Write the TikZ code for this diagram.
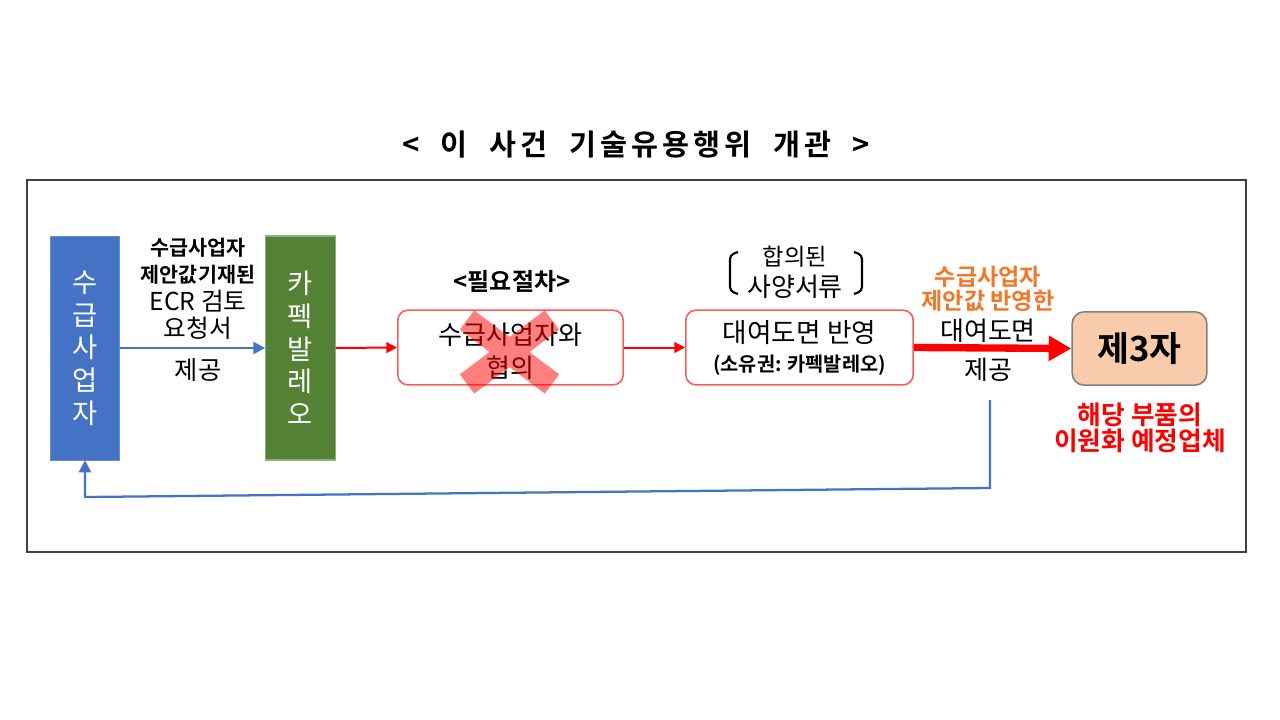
\documentclass[tikz,border=0pt]{standalone}
\usepackage{fontspec}
\setmainfont{Noto Sans CJK KR}[BoldFont={Noto Sans CJK KR Bold}]
\newfontfamily\titlefont{Noto Sans CJK KR Bold}[LetterSpace=14]
\usetikzlibrary{arrows.meta}
\definecolor{supblue}{HTML}{4472C4}
\definecolor{kapgreen}{HTML}{548235}
\definecolor{kapborder}{HTML}{8FAF7F}
\definecolor{boxred}{HTML}{FF5A5A}
\definecolor{orng}{HTML}{F07828}
\definecolor{peach}{HTML}{F8CBAD}
\definecolor{framegray}{HTML}{404040}
\newcommand{\fs}[2]{\fontsize{#1}{#2}\selectfont}
\tikzset{
  x=0.75pt, y=-0.75pt,
  vbox/.style={minimum width=52pt, minimum height=168pt, inner sep=0pt, text=white, align=center, font=\fs{20.5}{24.5}},
  procbox/.style={draw=boxred, line width=1.2pt, fill=white, rounded corners=7.5pt, minimum width=169pt, minimum height=56pt, inner sep=0pt, align=center},
  thinred/.style={draw=red, line width=1.5pt, -{Triangle[length=8pt,width=8pt]}},
  thinblue/.style={draw=supblue, line width=1.7pt, -{Triangle[length=9pt,width=9pt]}},
  lbl/.style={align=center, inner sep=0pt},
}
\begin{document}
\begin{tikzpicture}
\useasboundingbox (0,0) rectangle (1280,720);
\fill[white] (0,0) rectangle (1280,720);
% title
\node[lbl] (title) at (636,145) {\titlefont\fs{22}{24}<\ \ 이\ \ 사건\ \ 기술유용행위\ \ 개관\ \ >};
% frame
\draw[framegray, line width=0.9pt] (27,180) rectangle (1246,552);
% boxes
\node[vbox, fill=supblue, draw=supblue!80!white] (sup) at (85,348) {수\\급\\사\\업\\자};
\node[vbox, fill=kapgreen, draw=kapborder, line width=0.8pt] (kap) at (300.5,348) {카\\펙\\발\\레\\오};
\node[procbox] (agree) at (510.5,347.5) {};
\node[lbl, font=\fs{19.5}{25}] (agreetxt) at (510.5,351) {수급사업자와\\협의};
\node[procbox, minimum width=170.5pt] (loan) at (799.5,347.5) {};
\node[lbl, font=\fs{20}{22}] (loantxt) at (799.5,333) {대여도면 반영};
\node[lbl, font=\fs{14.8}{16}\bfseries] (owner) at (799.5,365) {(소유권: 카펙발레오)};
\node[draw=gray, line width=1.2pt, fill=peach, rounded corners=9pt, minimum width=101pt, minimum height=55pt, inner sep=0pt, font=\fs{26}{28}\bfseries] (third) at (1139.5,348.5) {제3자};
% red X
\draw[red, opacity=0.5, line width=18pt] (467,320) -- (552,384) (552,320) -- (467,384);
% labels
\node[lbl, font=\fs{15.5}{20}\bfseries] (reqb) at (198,261.5) {수급사업자\\제안값기재된};
\node[lbl, font=\fs{18.5}{20}] (reqr) at (198,314.5) {ECR 검토\\요청서};
\node[lbl, font=\fs{19}{20}] (give1) at (198,370) {제공};
\node[lbl, font=\fs{18}{20}\bfseries] (need) at (512,282) {<필요절차>};
\node[lbl, font=\fs{17.5}{20}] (spec1) at (795,257) {합의된};
\node[lbl, font=\fs{19.5}{20}] (spec2) at (795,287) {사양서류};
\draw[black, line width=1.6pt, rounded corners=3pt] (738,252) -- (730,255) -- (730,291) -- (738,294);
\draw[black, line width=1.6pt, rounded corners=3pt] (854,252) -- (862,255) -- (862,291) -- (854,294);
\node[lbl, text=orng, font=\fs{17.3}{18}\bfseries] (orlbl) at (988,288.5) {수급사업자\\제안값 반영한};
\node[lbl, font=\fs{19.5}{20}] (loanlbl) at (988,331) {대여도면};
\node[lbl, font=\fs{19.5}{20}] (give2) at (988,370) {제공};
\node[lbl, text=red, font=\fs{19.3}{20}\bfseries] (dual) at (1140,428) {해당 부품의\\이원화 예정업체};
% arrows
\draw[thinblue] (sup.east) -- (kap.west);
\draw[thinred] (kap.east) -- (agree.west);
\draw[thinred] (agree.east) -- (loan.west);
\draw[red, line width=5.5pt, -{Triangle[length=17pt,width=18pt]}] (loan.east) -- (third.west);
\coordinate (fbstart) at (990,400);
\coordinate (fbturn) at (990,488);
\coordinate (fbleft) at (85,497);
\draw[thinblue] (fbstart) -- (fbturn) -- (fbleft) -- (sup.south);
\end{tikzpicture}
\end{document}
